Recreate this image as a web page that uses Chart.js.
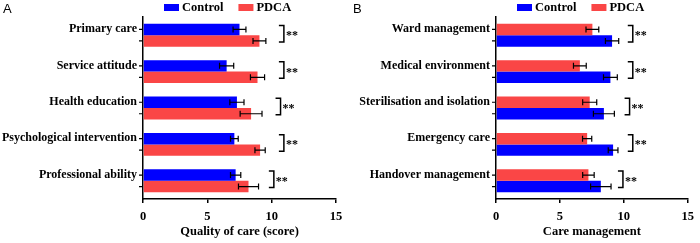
<!DOCTYPE html>
<html>
<head>
<meta charset="utf-8">
<script src="https://cdn.jsdelivr.net/npm/chart.js@4.4.0/dist/chart.umd.min.js"></script>
<style>
  body { margin: 0; background: #fff; }
  .wrap { display: flex; width: 700px; height: 243px; }
  canvas { display: block; }
</style>
</head>
<body>
<div class="wrap">
  <canvas id="chartA" width="350" height="243"></canvas>
  <canvas id="chartB" width="350" height="243"></canvas>
</div>
<script>
// panel A: quality of care
const catsA = ['Primary care', 'Service attitude', 'Health education', 'Psychological intervention', 'Professional ability'];
const controlA = [7.5, 6.5, 7.3, 7.1, 7.2];
const controlAErr = [0.5, 0.55, 0.55, 0.3, 0.4];
const pdcaA = [9.05, 8.9, 8.4, 9.1, 8.2];
const pdcaAErr = [0.5, 0.55, 0.85, 0.4, 0.78];
const bracketA = [10.95, 10.95, 10.69, 10.95, 10.17];

// panel B: care management (top bar red, bottom bar blue)
const catsB = ['Ward management', 'Medical environment', 'Sterilisation and isolation', 'Emergency care', 'Handover management'];
const pdcaB = [7.54, 6.56, 7.33, 7.13, 7.23];
const pdcaBErr = [0.5, 0.5, 0.55, 0.36, 0.45];
const controlB = [9.08, 8.95, 8.44, 9.16, 8.2];
const controlBErr = [0.52, 0.54, 0.82, 0.38, 0.8];
const bracketB = [10.7, 10.7, 10.45, 10.7, 9.93];

const xTicks = [0, 5, 10, 15];

const BLUE = '#0000FF';
const RED = '#FA4646';
const SERIF = "'Liberation Serif', 'Times New Roman', serif";

const extrasPlugin = {
  id: 'extras',
  afterDatasetsDraw(chart, args, opts) {
    const ctx = chart.ctx;
    const area = chart.chartArea;
    const x = chart.scales.x;
    ctx.save();
    ctx.strokeStyle = '#000';
    ctx.lineWidth = 1.2;

    // error bars + small ticks on the y axis at every bar
    chart.data.datasets.forEach((ds, di) => {
      const meta = chart.getDatasetMeta(di);
      meta.data.forEach((bar, i) => {
        const v = ds.data[i];
        const e = ds.errors[i];
        const x0 = x.getPixelForValue(v - e);
        const x1 = x.getPixelForValue(v + e);
        ctx.beginPath();
        ctx.moveTo(x0, bar.y);
        ctx.lineTo(x1, bar.y);
        ctx.moveTo(x0, bar.y - 3);
        ctx.lineTo(x0, bar.y + 3);
        ctx.moveTo(x1, bar.y - 3);
        ctx.lineTo(x1, bar.y + 3);
        ctx.moveTo(area.left - 4, bar.y);
        ctx.lineTo(area.left, bar.y);
        ctx.stroke();
      });
    });

    // significance brackets
    const top = chart.getDatasetMeta(0).data;
    const bottom = chart.getDatasetMeta(1).data;
    ctx.lineWidth = 1.5;
    ctx.font = 'bold 12px ' + SERIF;
    ctx.fillStyle = '#000';
    ctx.textBaseline = 'middle';
    ctx.textAlign = 'left';
    opts.brackets.forEach((b, i) => {
      const bx = x.getPixelForValue(b);
      const y0 = top[i].y - 4;
      const y1 = bottom[i].y + 1;
      ctx.beginPath();
      ctx.moveTo(bx - 5, y0);
      ctx.lineTo(bx, y0);
      ctx.lineTo(bx, y1);
      ctx.lineTo(bx - 5, y1);
      ctx.stroke();
      ctx.fillText('**', bx + 2, (top[i].y + bottom[i].y) / 2 + 1);
    });

    // legend
    ctx.font = 'bold 12.5px ' + SERIF;
    let lx = area.left + 21;
    const ly = 7.5;
    opts.legendOrder.forEach(di => {
      const ds = chart.data.datasets[di];
      ctx.fillStyle = ds.backgroundColor;
      ctx.fillRect(lx, ly - 3.5, 15, 7);
      ctx.fillStyle = '#000';
      ctx.fillText(ds.label, lx + 18, ly + 0.5);
      lx += 18 + ctx.measureText(ds.label).width + 15;
    });

    // panel letter
    ctx.font = "13px 'Liberation Sans', Arial, sans-serif";
    ctx.fillText(opts.letter, 3, 9);
    ctx.restore();
  }
};

function makeChart(canvas, cats, datasets, opts) {
  return new Chart(canvas, {
    type: 'bar',
    data: { labels: cats, datasets: datasets },
    options: {
      indexAxis: 'y',
      responsive: false,
      animation: false,
      layout: { padding: { left: 0, right: opts.padRight, top: 17, bottom: 0 } },
      datasets: { bar: { categoryPercentage: 0.63, barPercentage: 1 } },
      scales: {
        x: {
          min: 0,
          max: 15,
          afterBuildTicks: s => { s.ticks = xTicks.map(v => ({ value: v })); },
          afterFit: s => { s.height = 44; },
          grid: { drawOnChartArea: false, drawTicks: true, tickLength: 4, color: '#000', lineWidth: 1.5 },
          border: { color: '#000', width: 1.5 },
          ticks: { color: '#000', padding: 6, maxRotation: 0, font: { family: SERIF, size: 12.5, weight: 'bold' } },
          title: {
            display: true,
            text: opts.xTitle,
            color: '#000',
            padding: { top: 2, bottom: 4 },
            font: { family: SERIF, size: 12.5, weight: 'bold' }
          }
        },
        y: {
          afterFit: s => { s.width = opts.yWidth; },
          grid: { drawOnChartArea: false, drawTicks: false },
          border: { color: '#000', width: 1.5 },
          ticks: { color: '#000', padding: 6, labelOffset: -6, font: { family: SERIF, size: 12, weight: 'bold' } }
        }
      },
      plugins: {
        legend: { display: false },
        tooltip: { enabled: false },
        extras: { brackets: opts.brackets, legendOrder: opts.legendOrder, letter: opts.letter }
      }
    },
    plugins: [extrasPlugin]
  });
}

makeChart(document.getElementById('chartA'), catsA, [
  { label: 'Control', data: controlA, errors: controlAErr, backgroundColor: BLUE },
  { label: 'PDCA', data: pdcaA, errors: pdcaAErr, backgroundColor: RED }
], { padRight: 14, yWidth: 143, xTitle: 'Quality of care (score)', brackets: bracketA, legendOrder: [0, 1], letter: 'A' });

makeChart(document.getElementById('chartB'), catsB, [
  { label: 'PDCA', data: pdcaB, errors: pdcaBErr, backgroundColor: RED },
  { label: 'Control', data: controlB, errors: controlBErr, backgroundColor: BLUE }
], { padRight: 10, yWidth: 146, xTitle: 'Care management', brackets: bracketB, legendOrder: [1, 0], letter: 'B' });
</script>
</body>
</html>
